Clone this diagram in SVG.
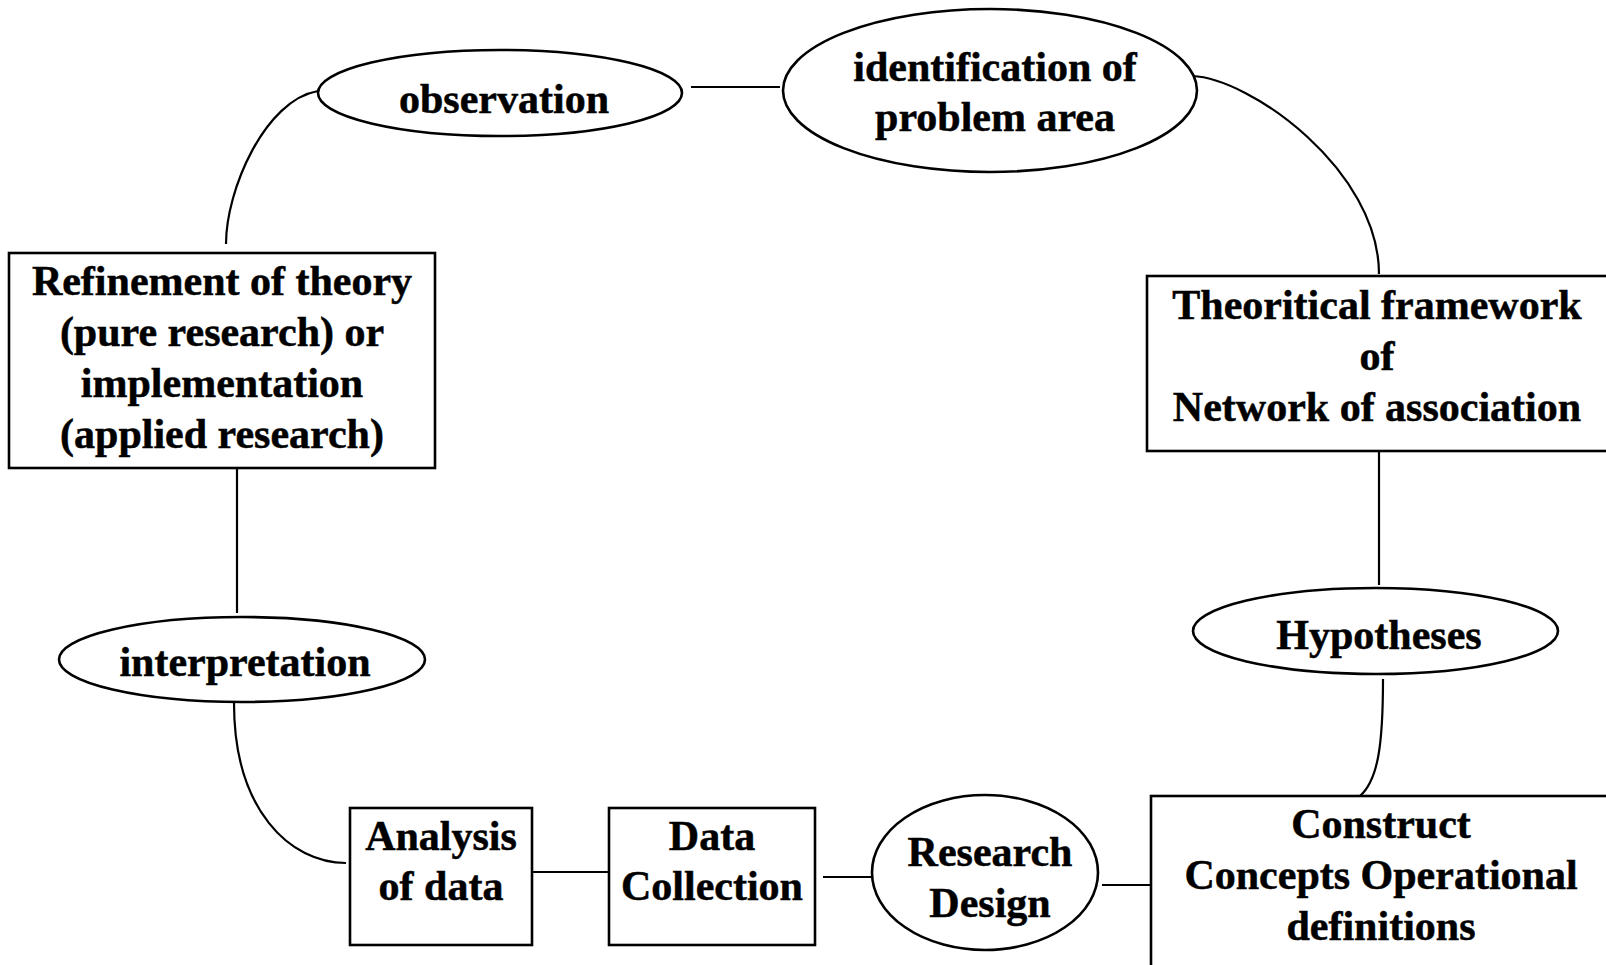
<svg xmlns="http://www.w3.org/2000/svg" width="1606" height="965" viewBox="0 0 1606 965">
<style>
.shape{fill:#fff;stroke:#000;stroke-width:2.6}
.conn{fill:none;stroke:#000;stroke-width:2.2}
text{font-family:"Liberation Serif","Times New Roman",serif;font-weight:bold;font-size:42px;fill:#000;stroke:#000;stroke-width:0.5;text-anchor:middle}
</style>
<rect width="1606" height="965" fill="#fff"/>
<g id="connectors">
<path class="conn" d="M226,244 C226,190 265,100 318,91"/>
<path class="conn" d="M691,87 L780,87"/>
<path class="conn" d="M1192,76 C1250,78 1379,170 1379,274"/>
<path class="conn" d="M1379,451 L1379,585"/>
<path class="conn" d="M1383,679 C1383,745 1378,780 1360,796"/>
<path class="conn" d="M1102,885 L1151,885"/>
<path class="conn" d="M823,877 L872,877"/>
<path class="conn" d="M532,872 L612,872"/>
<path class="conn" d="M234,703 C234,810 290,863 346,863"/>
<path class="conn" d="M237,460 L237,613"/>
</g>
<g id="observation">
<ellipse class="shape" cx="500" cy="93" rx="182" ry="43"/>
<text x="504" y="113">observation</text>
</g>
<g id="identification">
<ellipse class="shape" cx="990" cy="90.5" rx="207" ry="81.5"/>
<text x="995" y="81">identification of</text>
<text x="995" y="131">problem area</text>
</g>
<g id="theoretical">
<rect class="shape" x="1147" y="276" width="470" height="175"/>
<text x="1377" y="319">Theoritical framework</text>
<text x="1377" y="370">of</text>
<text x="1377" y="421">Network of association</text>
</g>
<g id="hypotheses">
<ellipse class="shape" cx="1375.5" cy="631" rx="182.5" ry="43"/>
<text x="1379" y="649">Hypotheses</text>
</g>
<g id="construct">
<rect class="shape" x="1151" y="796" width="470" height="185"/>
<text x="1381" y="838">Construct</text>
<text x="1381" y="889">Concepts Operational</text>
<text x="1381" y="940">definitions</text>
</g>
<g id="research-design">
<ellipse class="shape" cx="985" cy="872.5" rx="113" ry="77.5"/>
<text x="990" y="866">Research</text>
<text x="990" y="917">Design</text>
</g>
<g id="data-collection">
<rect class="shape" x="609" y="808" width="206" height="137"/>
<text x="712" y="850">Data</text>
<text x="712" y="900">Collection</text>
</g>
<g id="analysis">
<rect class="shape" x="350" y="808" width="182" height="137"/>
<text x="441" y="850">Analysis</text>
<text x="441" y="900">of data</text>
</g>
<g id="interpretation">
<ellipse class="shape" cx="242" cy="659.5" rx="183" ry="42.5"/>
<text x="245" y="676">interpretation</text>
</g>
<g id="refinement">
<rect class="shape" x="9" y="253" width="426" height="215"/>
<text x="222" y="295">Refinement of theory</text>
<text x="222" y="346">(pure research) or</text>
<text x="222" y="397">implementation</text>
<text x="222" y="448">(applied research)</text>
</g>
</svg>
